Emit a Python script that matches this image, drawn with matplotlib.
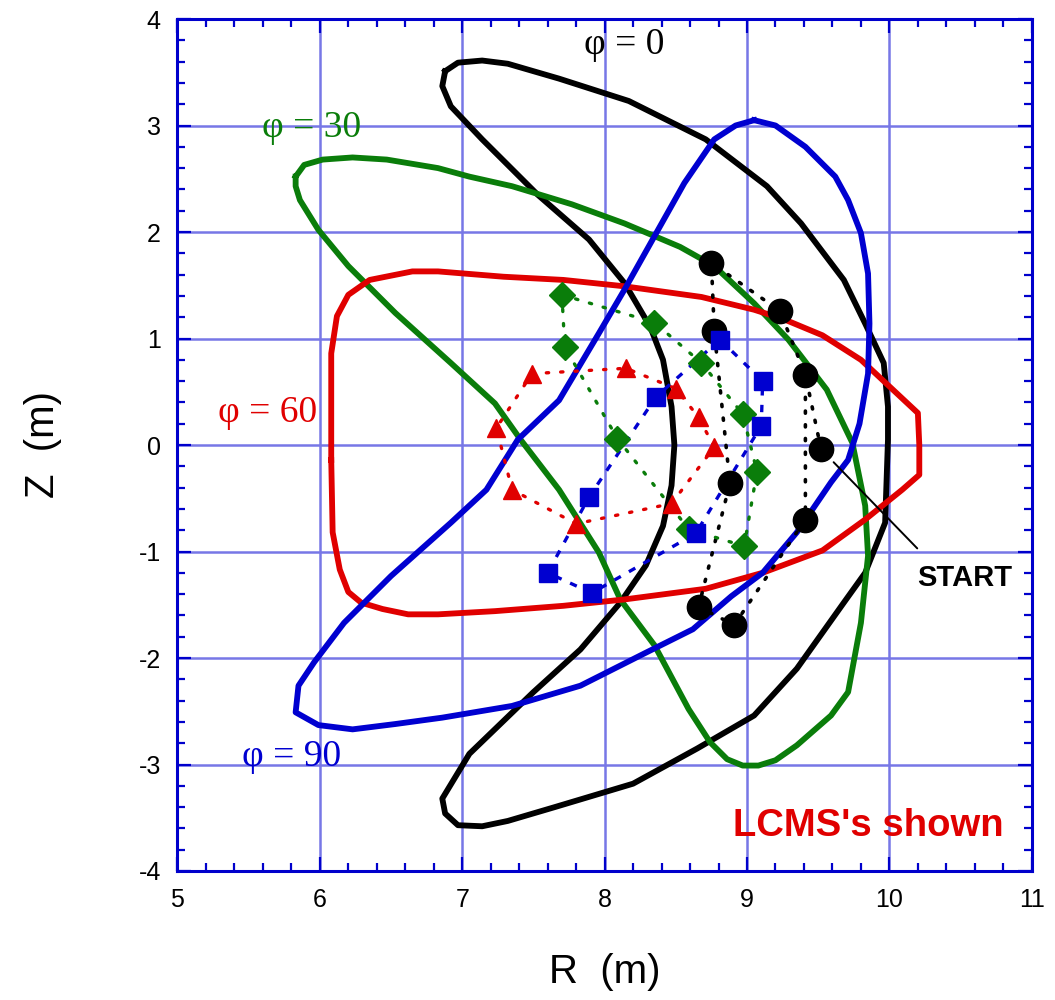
import matplotlib.pyplot as plt
import numpy as np

# LCMS cross sections (R, Z in m) at four toroidal angles
lcms0_r = [6.88, 6.97, 7.14, 7.32, 7.68, 8.17, 8.71, 9.14, 9.38, 9.68, 9.83, 9.96, 9.99, 9.99,
           9.97, 9.83, 9.68, 9.35, 9.05, 8.65, 8.20, 7.65, 7.32, 7.14, 6.97, 6.88, 6.86, 7.05,
           7.50, 7.83, 8.11, 8.29, 8.41, 8.47, 8.49, 8.47, 8.41, 8.32, 8.14, 7.89, 7.53, 7.14,
           6.92, 6.86, 6.88]
lcms0_z = [3.51, 3.59, 3.61, 3.58, 3.44, 3.23, 2.87, 2.43, 2.08, 1.55, 1.14, 0.77, 0.36, 0.05,
           -0.73, -1.20, -1.48, -2.10, -2.54, -2.85, -3.18, -3.40, -3.53, -3.58, -3.57, -3.46,
           -3.32, -2.90, -2.32, -1.92, -1.48, -1.13, -0.76, -0.38, 0.00, 0.36, 0.80, 1.11, 1.52,
           1.93, 2.35, 2.87, 3.18, 3.37, 3.51]

lcms30_r = [5.83, 5.89, 6.02, 6.23, 6.47, 6.83, 7.05, 7.35, 7.77, 8.14, 8.53, 8.77, 9.05, 9.29,
            9.56, 9.74, 9.83, 9.85, 9.80, 9.71, 9.59, 9.35, 9.20, 9.08, 8.97, 8.86, 8.74, 8.59,
            8.35, 8.11, 7.96, 7.68, 7.41, 7.23, 6.92, 6.53, 6.20, 5.99, 5.86, 5.83, 5.83]
lcms30_z = [2.52, 2.63, 2.68, 2.70, 2.68, 2.60, 2.52, 2.43, 2.26, 2.08, 1.86, 1.68, 1.33, 0.99,
            0.52, 0.02, -0.57, -1.04, -1.67, -2.32, -2.54, -2.82, -2.96, -3.01, -3.01, -2.95,
            -2.79, -2.48, -1.88, -1.45, -1.01, -0.42, 0.05, 0.39, 0.77, 1.24, 1.68, 2.02, 2.30,
            2.43, 2.52]

lcms60_r = [6.08, 6.08, 6.12, 6.20, 6.35, 6.65, 6.83, 7.29, 7.71, 8.14, 8.68, 9.05, 9.26, 9.53,
            9.80, 10.20, 10.21, 10.21, 10.09, 9.83, 9.53, 9.11, 8.71, 8.14, 7.71, 7.23, 6.83,
            6.62, 6.44, 6.29, 6.20, 6.14, 6.09, 6.08]
lcms60_z = [-0.14, 0.86, 1.21, 1.41, 1.55, 1.63, 1.63, 1.58, 1.55, 1.49, 1.39, 1.27, 1.18, 1.03,
            0.80, 0.30, 0.00, -0.28, -0.42, -0.70, -0.99, -1.20, -1.35, -1.45, -1.51, -1.56,
            -1.59, -1.59, -1.54, -1.48, -1.38, -1.17, -0.82, -0.14]

lcms90_r = [9.05, 9.20, 9.41, 9.62, 9.71, 9.80, 9.85, 9.86, 9.85, 9.79, 9.71, 9.59, 9.35, 9.11,
            8.89, 8.62, 8.29, 7.83, 7.35, 6.86, 6.53, 6.23, 5.99, 5.83, 5.85, 5.96, 6.17, 6.50,
            6.92, 7.17, 7.39, 7.68, 7.96, 8.14, 8.35, 8.56, 8.77, 8.92, 9.05]
lcms90_z = [3.05, 3.00, 2.80, 2.52, 2.30, 1.99, 1.61, 1.14, 0.67, 0.20, -0.14, -0.35, -0.82,
            -1.20, -1.42, -1.73, -1.95, -2.26, -2.45, -2.56, -2.62, -2.67, -2.63, -2.51, -2.26,
            -2.04, -1.67, -1.23, -0.73, -0.42, 0.05, 0.42, 1.05, 1.46, 1.96, 2.46, 2.87, 3.00, 3.05]

# field line punctures, listed in the order they are joined
black_r = [9.52, 9.41, 9.23, 8.75, 8.77, 8.88, 8.66, 8.91, 9.41, 9.41]
black_z = [-0.04, 0.66, 1.26, 1.71, 1.07, -0.36, -1.52, -1.69, -0.70, 0.66]

green_r = [7.70, 8.35, 8.68, 8.97, 9.07, 8.98, 8.59, 8.09, 7.72, 7.70]
green_z = [1.41, 1.15, 0.77, 0.29, -0.25, -0.95, -0.79, 0.06, 0.92, 1.41]

blue_r = [8.81, 9.11, 9.10, 8.64, 7.91, 7.60, 7.89, 8.36, 8.81]
blue_z = [0.99, 0.60, 0.18, -0.83, -1.39, -1.20, -0.49, 0.45, 0.99]

red_r = [7.49, 8.15, 8.50, 8.66, 8.77, 8.47, 7.80, 7.35, 7.24, 7.49]
red_z = [0.67, 0.72, 0.53, 0.26, -0.02, -0.55, -0.74, -0.42, 0.16, 0.67]

phi_labels = ['φ = 0', 'φ = 30', 'φ = 60', 'φ = 90']

BLACK, GREEN, RED, BLUE = '#000000', '#0a7d0a', '#e00000', '#0000d0'
AXIS_BLUE = '#0000cc'
SANS = 'Liberation Sans'
SERIF = ['Liberation Serif', 'DejaVu Serif']

plt.rcParams['axes.unicode_minus'] = False

fig = plt.figure(figsize=(10.55, 10), dpi=100)
ax = fig.add_axes([0.1682, 0.129, 0.8098, 0.852])

# closed flux surfaces
for r, z, c in [(lcms0_r, lcms0_z, BLACK), (lcms30_r, lcms30_z, GREEN),
                (lcms60_r, lcms60_z, RED), (lcms90_r, lcms90_z, BLUE)]:
    ax.plot(r, z, color=c, lw=4.2, solid_joinstyle='round', zorder=3)

# puncture traces
ax.plot(black_r, black_z, color=BLACK, lw=2.6, ls=(0, (0.6, 3.2)),
        dash_capstyle='round', zorder=4)
ax.plot(black_r[:-1], black_z[:-1], 'o', color=BLACK, ms=17.5, zorder=5)

ax.plot(green_r, green_z, color=GREEN, lw=2.4, ls=(0, (0.7, 3.6)),
        dash_capstyle='round', zorder=4)
ax.plot(green_r[:-1], green_z[:-1], 'D', color=GREEN, ms=13.5, zorder=5)

ax.plot(blue_r, blue_z, color=BLUE, lw=2.4, ls=(0, (2.2, 2.8)), zorder=4)
ax.plot(blue_r[:-1], blue_z[:-1], 's', color=BLUE, ms=12.5, zorder=5)

ax.plot(red_r, red_z, color=RED, lw=2.4, ls=(0, (0.7, 3.6)),
        dash_capstyle='round', zorder=4)
ax.plot(red_r[:-1], red_z[:-1], '^', color=RED, ms=13, zorder=5)

# labels for each surface
for txt, x, y, c in zip(phi_labels, [8.14, 5.94, 5.63, 5.80], [3.76, 2.98, 0.30, -2.93],
                        [BLACK, GREEN, RED, BLUE]):
    ax.text(x, y, txt, color=c, fontsize=27, family=SERIF, ha='center', va='center')

ax.annotate('START', xy=(black_r[0], black_z[0]), xytext=(10.53, -1.25),
            fontsize=21, fontweight='bold', family=SANS,
            ha='center', va='center', zorder=6,
            arrowprops=dict(arrowstyle='-', color='black', lw=1.4,
                            relpos=(0.16, 1.0), shrinkA=13, shrinkB=13))
ax.text(9.85, -3.58, "LCMS's shown", color=RED, fontsize=27.5, fontweight='bold',
        family=SANS, ha='center', va='center')

ax.set_xlim(5, 11)
ax.set_ylim(-4, 4)
ax.set_xticks(np.arange(5, 12, 1))
ax.set_yticks(np.arange(-4, 5, 1))
ax.set_xticks(np.arange(5, 11.01, 0.2), minor=True)
ax.set_yticks(np.arange(-4, 4.01, 0.2), minor=True)
ax.grid(True, which='major', color='#7777e6', lw=1.8, zorder=1)
ax.set_axisbelow(True)

for s in ax.spines.values():
    s.set_color(AXIS_BLUE)
    s.set_linewidth(2.2)
ax.tick_params(which='both', direction='in', top=True, right=True,
               color=AXIS_BLUE, width=1.6, labelsize=18, pad=12)
ax.tick_params(which='major', length=10)
ax.tick_params(which='minor', length=6)
for lbl in ax.get_xticklabels() + ax.get_yticklabels():
    lbl.set_family(SANS)

ax.set_xlabel('R  (m)', fontsize=29, family=SANS, labelpad=30)
ax.set_ylabel('Z  (m)', fontsize=29, family=SANS, labelpad=55)

fig.savefig('out.png', dpi=100)
